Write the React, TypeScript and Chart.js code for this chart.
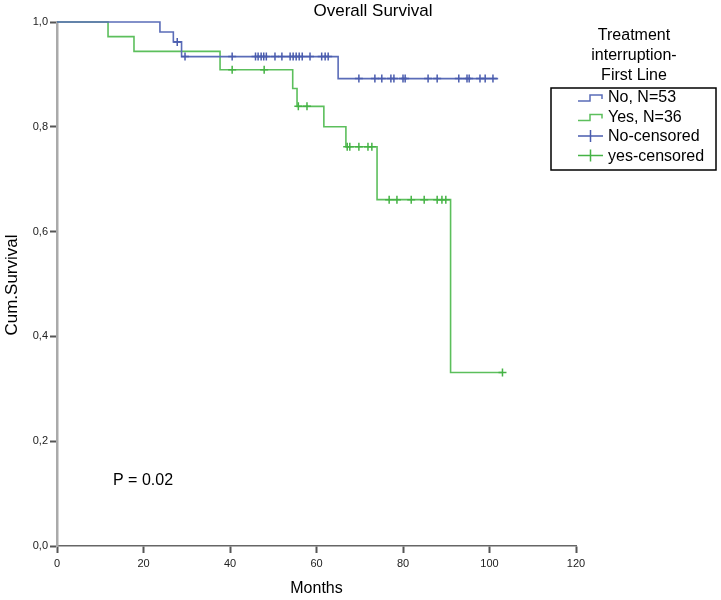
import { useEffect, useRef } from "react";
import { Chart, registerables } from "chart.js";

Chart.register(...registerables);

const FONT = '"Liberation Sans", Arial, Helvetica, sans-serif';

// Kaplan-Meier step data (time in months, cumulative survival)
const noTimes = [0, 23.8, 26.9, 28.8, 65, 102];
const noSurvival = [1, 0.981, 0.962, 0.934, 0.892, 0.892];
const noCensored = [
  27.8, 29.6, 40.5, 45.9, 46.5, 47.2, 47.8, 48.4, 50.4, 52.0, 53.9, 54.6, 55.3, 56.0, 56.7,
  58.5, 61.2, 62.0, 62.7, 69.8, 73.5, 75.1, 77.2, 77.9, 80.0, 80.5, 85.8, 87.9, 92.9, 94.8,
  95.3, 97.8, 99.0, 100.8,
];

const yesTimes = [0, 11.8, 17.8, 37.7, 54.5, 55.5, 61.7, 66.8, 74, 91, 103];
const yesSurvival = [1, 0.972, 0.944, 0.909, 0.873, 0.839, 0.8, 0.762, 0.661, 0.331, 0.331];
const yesCensored = [
  40.5, 47.9, 55.8, 57.8, 67.1, 67.7, 69.8, 71.9, 72.8, 76.8, 78.6, 81.9, 84.9, 87.9, 89.0,
  89.9, 103,
];

const titleText = "Overall Survival";
const xTitle = "Months";
const yTitle = "Cum.Survival";
const pText = "P = 0.02";
const legendTitle = ["Treatment", "interruption-", "First Line"];
const legendLabels = ["No, N=53", "Yes, N=36", "No-censored", "yes-censored"];

const BLUE = "#5a6cb8";
const BLUE_MARK = "#4a5cae";
const GREEN = "#5cbf5c";
const GREEN_MARK = "#45b345";

function stepAt(times: number[], surv: number[], t: number) {
  let v = surv[0];
  for (let i = 0; i < times.length; i++) {
    if (times[i] <= t) v = surv[i];
  }
  return v;
}

const decorPlugin = {
  id: "decor",
  afterDraw(chart: any) {
    const ctx = chart.ctx as CanvasRenderingContext2D;
    const area = chart.chartArea;
    ctx.save();
    ctx.fillStyle = "#000";
    // title
    ctx.font = `17px ${FONT}`;
    ctx.textAlign = "center";
    ctx.textBaseline = "middle";
    ctx.fillText(titleText, 373, 11);
    // x title
    ctx.font = `16px ${FONT}`;
    ctx.fillText(xTitle, (area.left + area.right) / 2, 589);
    // y title
    ctx.save();
    ctx.translate(12, 285);
    ctx.rotate(-Math.PI / 2);
    ctx.font = `17px ${FONT}`;
    ctx.fillText(yTitle, 0, 0);
    ctx.restore();
    // P value
    ctx.font = `16px ${FONT}`;
    ctx.textAlign = "left";
    ctx.fillText(pText, 113, 481);
    // legend title
    ctx.textAlign = "center";
    const ty = [36, 56, 76];
    legendTitle.forEach((t, i) => ctx.fillText(t, 634, ty[i]));
    // legend box
    ctx.strokeStyle = "#000";
    ctx.lineWidth = 1.5;
    ctx.strokeRect(551, 88, 165, 82);
    const iy = [98, 117.5, 137, 156.5];
    ctx.textAlign = "left";
    legendLabels.forEach((t, i) => ctx.fillText(t, 608, iy[i]));
    // step icons
    const stepIcon = (y: number, c: string) => {
      ctx.strokeStyle = c;
      ctx.lineWidth = 1.5;
      ctx.beginPath();
      ctx.moveTo(578, y + 3);
      ctx.lineTo(590, y + 3);
      ctx.lineTo(590, y - 3);
      ctx.lineTo(602, y - 3);
      ctx.lineTo(602, y + 1);
      ctx.stroke();
    };
    stepIcon(iy[0], BLUE);
    stepIcon(iy[1], GREEN);
    const crossIcon = (y: number, c: string) => {
      ctx.strokeStyle = c;
      ctx.lineWidth = 1.5;
      ctx.beginPath();
      ctx.moveTo(578, y);
      ctx.lineTo(603, y);
      ctx.moveTo(590.5, y - 6);
      ctx.lineTo(590.5, y + 6);
      ctx.stroke();
    };
    crossIcon(iy[2] - 1, BLUE_MARK);
    crossIcon(iy[3] - 1, GREEN_MARK);
    ctx.restore();
  },
};

export default function App() {
  const ref = useRef<HTMLCanvasElement | null>(null);
  useEffect(() => {
    if (!ref.current) return;
    const grid = {
      display: true,
      drawOnChartArea: false,
      drawTicks: true,
      tickLength: 7,
      tickWidth: 2,
      tickColor: "#555",
    };
    const chart = new Chart(ref.current, {
      type: "line",
      data: {
        datasets: [
          {
            label: "Yes",
            data: yesTimes.map((t, i) => ({ x: t, y: yesSurvival[i] })),
            borderColor: GREEN,
            borderWidth: 1.6,
            stepped: "before",
            pointRadius: 0,
            fill: false,
            clip: false,
            order: 2,
          },
          {
            label: "No",
            data: noTimes.map((t, i) => ({ x: t, y: noSurvival[i] })),
            borderColor: BLUE,
            borderWidth: 1.6,
            stepped: "before",
            pointRadius: 0,
            fill: false,
            clip: false,
            order: 1,
          },
          {
            type: "scatter",
            label: "yes-censored",
            data: yesCensored.map((t) => ({ x: t, y: stepAt(yesTimes, yesSurvival, t) })),
            pointStyle: "cross",
            pointRadius: 4,
            borderColor: GREEN_MARK,
            borderWidth: 1.5,
            showLine: false,
            clip: false,
            order: 0,
          },
          {
            type: "scatter",
            label: "No-censored",
            data: noCensored.map((t) => ({ x: t, y: stepAt(noTimes, noSurvival, t) })),
            pointStyle: "cross",
            pointRadius: 4,
            borderColor: BLUE_MARK,
            borderWidth: 1.5,
            showLine: false,
            clip: false,
            order: 0,
          },
        ] as any,
      },
      options: {
        animation: false,
        responsive: false,
        layout: { padding: { top: 22, right: 145, left: 0, bottom: 0 } },
        plugins: {
          legend: { display: false },
          title: { display: false },
          tooltip: { enabled: false },
        },
        scales: {
          x: {
            type: "linear",
            min: 0,
            max: 120,
            ticks: {
              stepSize: 20,
              color: "#222",
              font: { size: 11, family: FONT },
              padding: 4,
            },
            grid,
            border: { display: true, color: "#666", width: 1.5 },
            afterFit: (s: any) => {
              s.height = 54;
            },
          },
          y: {
            type: "linear",
            min: 0,
            max: 1,
            ticks: {
              stepSize: 0.2,
              color: "#222",
              font: { size: 11, family: FONT },
              padding: 2,
              callback: (v: any) => Number(v).toFixed(1).replace(".", ","),
            },
            grid,
            border: { display: true, color: "#aaa", width: 2.5 },
            afterFit: (s: any) => {
              s.width = 57;
            },
          },
        },
      } as any,
      plugins: [decorPlugin],
    });
    return () => chart.destroy();
  }, []);
  return (
    <div style={{ position: "absolute", left: 0, top: 0, width: 721, height: 600, background: "#fff" }}>
      <canvas ref={ref} width={721} height={600} style={{ display: "block" }} />
    </div>
  );
}
